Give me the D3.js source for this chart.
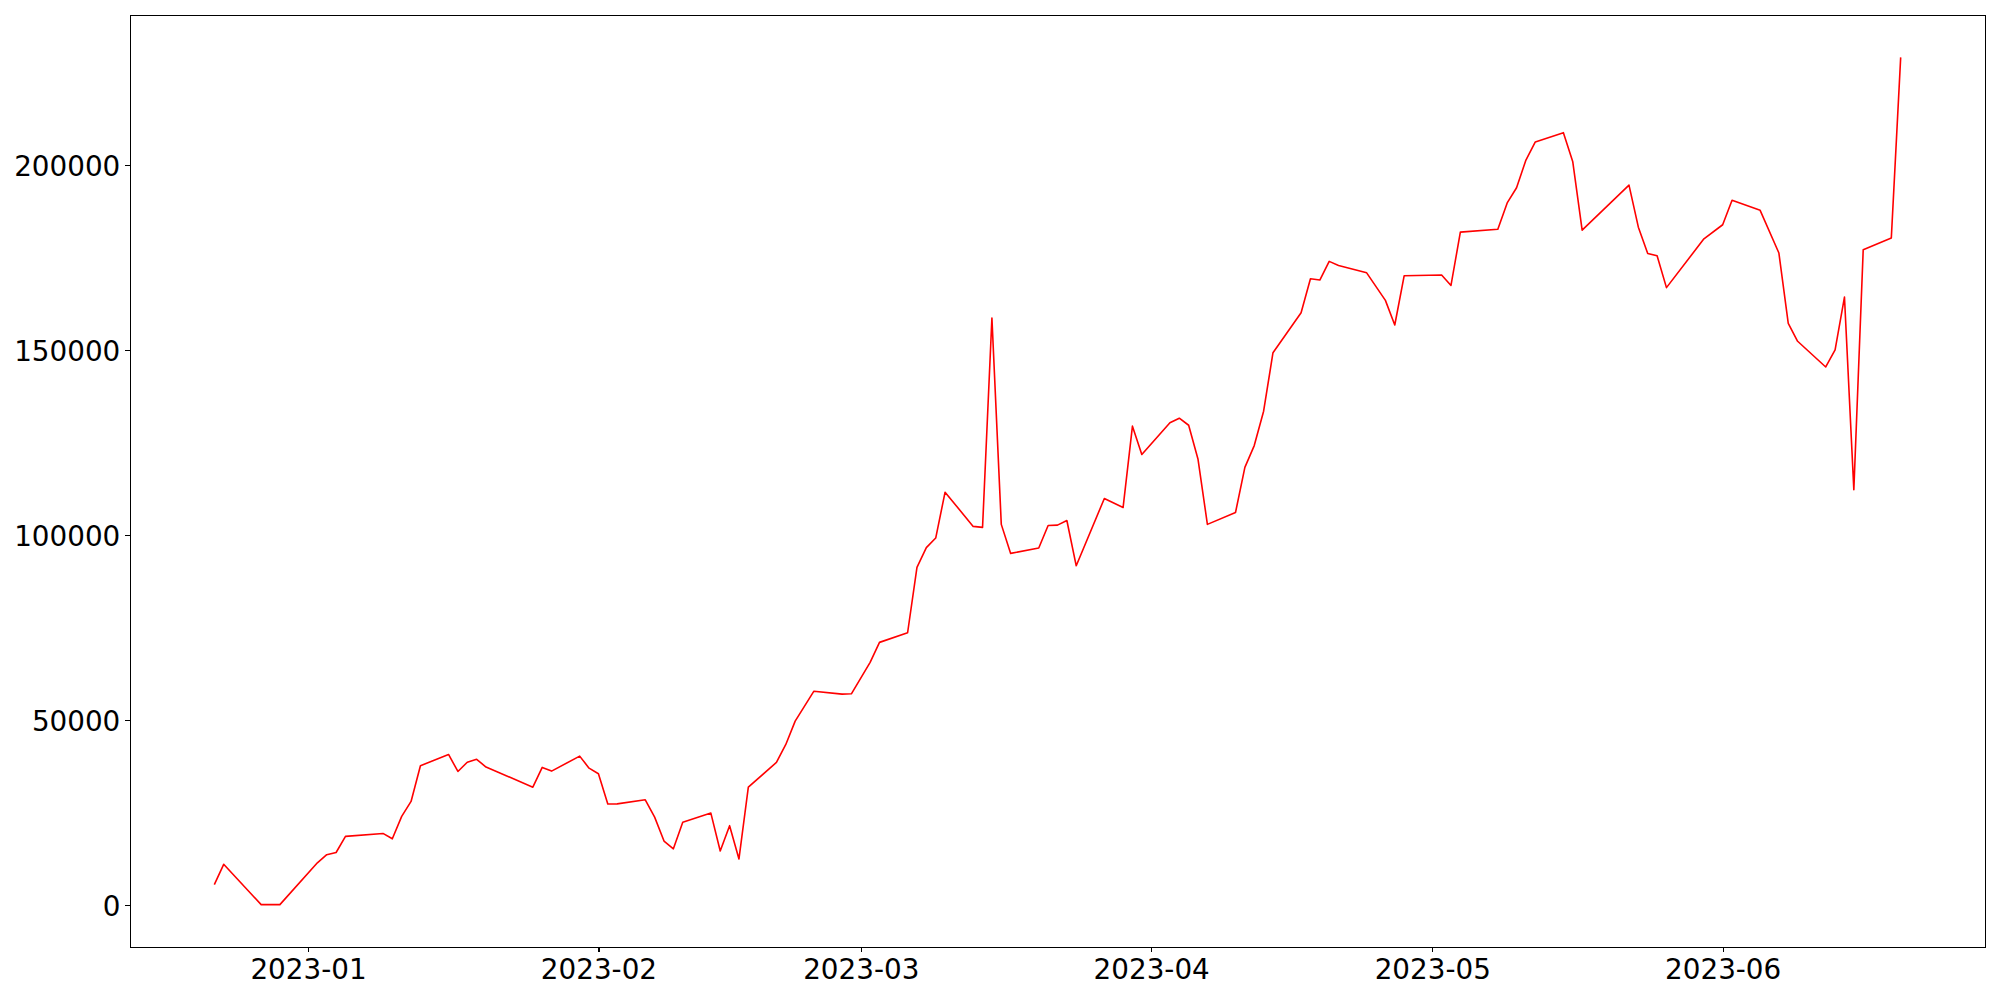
<!DOCTYPE html>
<html>
<head>
<meta charset="utf-8">
<script src="https://cdn.jsdelivr.net/npm/d3@7"></script>
<style>
  body { margin: 0; background: #fff; }
  svg { display: block; }
</style>
</head>
<body>
<svg id="chart"></svg>
<script>
// trading days and values
var dates = [
  "2022-12-22","2022-12-23","2022-12-27","2022-12-29",
  "2023-01-02","2023-01-03","2023-01-04","2023-01-05","2023-01-09","2023-01-10",
  "2023-01-11","2023-01-12","2023-01-13","2023-01-16","2023-01-17","2023-01-18",
  "2023-01-19","2023-01-20","2023-01-25","2023-01-26","2023-01-27","2023-01-30",
  "2023-01-31","2023-02-01","2023-02-02","2023-02-03","2023-02-06","2023-02-07",
  "2023-02-08","2023-02-09","2023-02-10","2023-02-13","2023-02-14","2023-02-15",
  "2023-02-16","2023-02-17","2023-02-20","2023-02-21","2023-02-22","2023-02-24",
  "2023-02-27","2023-02-28","2023-03-02","2023-03-03","2023-03-06","2023-03-07",
  "2023-03-08","2023-03-09","2023-03-10","2023-03-13","2023-03-14","2023-03-15",
  "2023-03-16","2023-03-17","2023-03-20","2023-03-21","2023-03-22","2023-03-23",
  "2023-03-24","2023-03-27","2023-03-29","2023-03-30","2023-03-31","2023-04-03",
  "2023-04-04","2023-04-05","2023-04-06","2023-04-07","2023-04-10","2023-04-11",
  "2023-04-12","2023-04-13","2023-04-14","2023-04-17","2023-04-18","2023-04-19",
  "2023-04-20","2023-04-21","2023-04-24","2023-04-26","2023-04-27","2023-04-28",
  "2023-05-02","2023-05-03","2023-05-04","2023-05-08","2023-05-09","2023-05-10",
  "2023-05-11","2023-05-12","2023-05-15","2023-05-16","2023-05-17","2023-05-22",
  "2023-05-23","2023-05-24","2023-05-25","2023-05-26","2023-05-30","2023-06-01",
  "2023-06-02","2023-06-05","2023-06-07","2023-06-08","2023-06-09","2023-06-12",
  "2023-06-13","2023-06-14","2023-06-15","2023-06-16","2023-06-19","2023-06-20"
]
var values = [
  5400,10900,0,0,
  11300,13500,14100,18450,19250,17800,
  23850,27900,37550,40600,36000,38500,
  39300,37200,31750,37100,36100,40150,
  36900,35400,27200,27250,28350,23650,
  17200,15100,22300,24750,14500,21350,
  12350,31750,38450,43300,49600,57700,
  56900,57000,65500,70900,73500,91200,
  96500,99100,111500,102250,102000,158600,
  102800,94950,96400,102500,102600,103850,
  91600,109800,107350,129350,121700,130250,
  131500,129600,120400,102800,106000,118200,
  124100,133400,149200,160000,169200,168850,
  173900,172800,170800,163350,156700,170000,
  170200,167400,181800,182600,189700,193800,
  201300,206200,208700,200800,182350,194500,
  183150,176050,175400,166800,180000,183800,
  190400,187700,176150,157150,152300,145350,
  149950,164250,112150,177050,180200,229050
]
var yTicks = [0, 50000, 100000, 150000, 200000]
var xTickLabels = ["2023-01","2023-02","2023-03","2023-04","2023-05","2023-06"]

function main(){
    var width = 2000
    var height = 1000
    var margin = {left:130, top:15, right:15, bottom:53}
    var innerW = width - margin.left - margin.right
    var innerH = height - margin.top - margin.bottom

    var parse = d3.utcParse("%Y-%m-%d")
    var data = dates.map((d,i) => ({date: parse(d), value: values[i]}))

    var svg = d3.select('#chart')
        .attr("width", width).attr("height", height)
    var g = svg.append("g")
        .attr("transform", `translate(${margin.left},${margin.top})`)

    // matplotlib style 5% padding on both axes
    var xExt = d3.extent(data, d=>d.date)
    var xPad = (xExt[1]-xExt[0])*0.05
    var xScale = d3.scaleUtc()
        .domain([new Date(+xExt[0]-xPad), new Date(+xExt[1]+xPad)])
        .range([0, innerW])

    var yExt = d3.extent(data, d=>d.value)
    var yPad = (yExt[1]-yExt[0])*0.05
    var yScale = d3.scaleLinear()
        .domain([yExt[0]-yPad, yExt[1]+yPad])
        .range([innerH, 0])

    var font = "'DejaVu Sans', sans-serif"
    var tickLen = 4.86

    var xAxis = d3.axisBottom(xScale)
        .tickValues(xTickLabels.map(s => parse(s + "-01")))
        .tickFormat(d3.utcFormat("%Y-%m"))
        .tickSize(tickLen)
        .tickSizeOuter(0)
    var gx = g.append("g")
        .attr("class", "axis xAxis")
        .attr("transform", `translate(0,${innerH})`)
        .call(xAxis)
    gx.select(".domain").remove()
    gx.selectAll("line").attr("stroke", "#000").attr("stroke-width", 1.2)
        .attr("shape-rendering", "crispEdges")
    gx.selectAll("text")
        .attr("y", 32.3).attr("dy", null)
        .attr("fill", "#000")
        .style("font-family", font).style("font-size", "27.8px")

    var yAxis = d3.axisLeft(yScale)
        .tickValues(yTicks)
        .tickFormat(d3.format("d"))
        .tickSize(tickLen)
        .tickSizeOuter(0)
    var gy = g.append("g")
        .attr("class", "axis yAxis")
        .call(yAxis)
    gy.select(".domain").remove()
    gy.selectAll("line").attr("stroke", "#000").attr("stroke-width", 1.2)
        .attr("shape-rendering", "crispEdges")
    gy.selectAll("text")
        .attr("x", -9.7).attr("dy", "0.39em")
        .attr("fill", "#000")
        .style("font-family", font).style("font-size", "27.8px")

    var line = d3.line()
        .x(d=>xScale(d.date))
        .y(d=>yScale(d.value))

    g.append("path")
        .datum(data)
        .attr("d", line)
        .attr("fill", "none")
        .attr("stroke", "#ff0000")
        .attr("stroke-width", 1.6)
        .attr("stroke-linejoin", "round")

    // frame
    g.append("rect")
        .attr("x", 0.5).attr("y", 0.5)
        .attr("width", innerW).attr("height", innerH)
        .attr("fill", "none")
        .attr("stroke", "#000")
        .attr("stroke-width", 1.2)
        .attr("shape-rendering", "crispEdges")
}
main()
</script>
</body>
</html>
